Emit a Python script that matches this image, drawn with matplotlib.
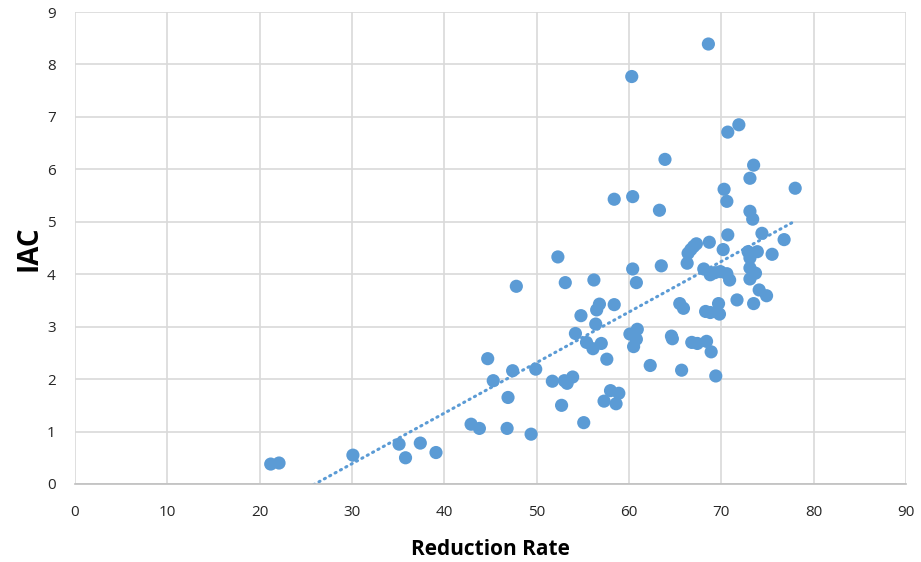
import numpy as np
import matplotlib
matplotlib.use('Agg')
import matplotlib.pyplot as plt

# reduction rate (%) vs IAC
reduction_rate = [21.2, 22.1, 30.1, 35.1, 35.8, 37.4, 39.1, 42.9, 43.8, 44.7,
                  45.3, 46.8, 46.9, 47.4, 47.8, 49.4, 49.9, 51.7, 52.3, 52.7,
                  53.0, 53.1, 53.3, 53.9, 54.2, 54.8, 55.1, 55.4, 56.1, 56.2,
                  56.4, 56.5, 56.8, 57.0, 57.3, 57.6, 58.0, 58.4, 58.4, 58.6,
                  58.9, 60.1, 60.3, 60.4, 60.4, 60.5, 60.8, 60.8, 60.9, 62.3,
                  63.3, 63.5, 63.9, 64.6, 64.7, 65.5, 65.7, 65.9, 66.3, 66.4,
                  66.7, 66.8, 67.0, 67.3, 67.4, 68.1, 68.3, 68.4, 68.6, 68.7,
                  68.8, 68.8, 68.9, 69.3, 69.4, 69.7, 69.8, 69.9, 70.2, 70.3,
                  70.6, 70.6, 70.7, 70.7, 70.9, 71.7, 71.9, 72.9, 73.1, 73.1,
                  73.1, 73.1, 73.1, 73.4, 73.5, 73.5, 73.7, 73.9, 74.1, 74.4,
                  74.9, 75.5, 76.8, 78.0]
iac = [0.38, 0.40, 0.55, 0.76, 0.50, 0.78, 0.60, 1.14, 1.06, 2.39,
       1.97, 1.06, 1.65, 2.16, 3.77, 0.95, 2.19, 1.96, 4.33, 1.50,
       1.97, 3.84, 1.92, 2.04, 2.87, 3.21, 1.17, 2.70, 2.58, 3.89,
       3.05, 3.32, 3.43, 2.68, 1.58, 2.38, 1.78, 5.43, 3.42, 1.53,
       1.73, 2.86, 7.77, 5.48, 4.10, 2.62, 3.84, 2.76, 2.95, 2.26,
       5.22, 4.16, 6.19, 2.82, 2.77, 3.44, 2.17, 3.35, 4.21, 4.40,
       4.47, 2.70, 4.53, 4.58, 2.68, 4.10, 3.29, 2.72, 8.39, 4.61,
       3.99, 3.27, 2.52, 4.03, 2.06, 3.44, 3.24, 4.05, 4.47, 5.62,
       5.39, 4.01, 4.75, 6.71, 3.89, 3.51, 6.85, 4.43, 5.83, 5.20,
       4.31, 4.12, 3.91, 5.05, 6.08, 3.44, 4.02, 4.43, 3.70, 4.78,
       3.59, 4.38, 4.66, 5.64]

x_ticks = list(range(0, 91, 10))
y_ticks = list(range(0, 10))

blue = '#5B9BD5'
txt = '#262626'

fig = plt.figure(figsize=(9.21, 5.62), dpi=100, facecolor='white')
ax = fig.add_axes([0.0814, 0.1388, 0.9023, 0.8398])

ax.scatter(reduction_rate, iac, s=90, color=blue, edgecolors='none', zorder=3)

# linear trendline like excel
x = np.array(reduction_rate)
k, b = np.polyfit(x, np.array(iac), 1)
xs = np.array([x.min(), x.max()])
ax.plot(xs, k * xs + b, color=blue, lw=2.2, linestyle=(0, (0.4, 1.6)),
        dash_capstyle='round', zorder=2)

ax.set_xlim(0, 90)
ax.set_ylim(0, 9)
ax.set_xticks(x_ticks)
ax.set_yticks(y_ticks)
ax.grid(True, color='#D9D9D9', lw=1.2, zorder=0)
ax.set_axisbelow(True)
for s in ['top', 'right', 'left']:
    ax.spines[s].set_visible(False)
ax.spines['bottom'].set_color('#BFBFBF')
ax.spines['bottom'].set_linewidth(1.2)
ax.tick_params(axis='x', length=0, labelsize=11, labelcolor=txt, pad=15)
ax.tick_params(axis='y', length=0, labelsize=11, labelcolor=txt, pad=14)
for lab in ax.get_xticklabels() + ax.get_yticklabels():
    lab.set_fontfamily('Open Sans')

ax.set_xlabel('Reduction Rate', fontsize=15, fontweight='bold', family='Open Sans',
              labelpad=14, color='black')
ax.set_ylabel('IAC', fontsize=20, fontweight='bold', family='Open Sans',
              labelpad=2, color='black')

fig.savefig('out.png', dpi=100, facecolor='white')
